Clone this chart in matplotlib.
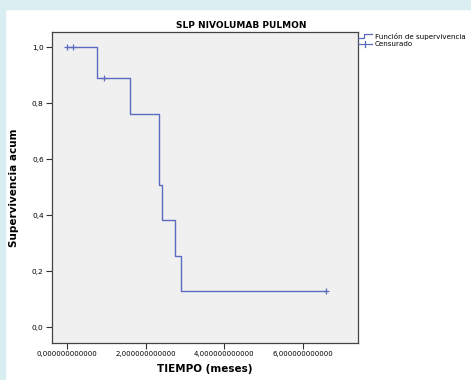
import numpy as np
import matplotlib.pyplot as plt
from matplotlib.lines import Line2D
from matplotlib.patches import Rectangle

# Kaplan-Meier steps
step_times = [0.0, 0.76, 1.60, 2.34, 2.42, 2.75, 2.90]
step_surv = [1.0, 0.889, 0.762, 0.508, 0.381, 0.254, 0.127]
end_time = 6.58

censor_times = [0.01, 0.15, 0.94, 6.58]
censor_surv = [1.0, 1.0, 0.889, 0.127]

x_ticks = [0, 2, 4, 6]
x_ticklabels = ["0,000000000000", "2,000000000000", "4,000000000000", "6,000000000000"]
y_ticks = [0.0, 0.2, 0.4, 0.6, 0.8, 1.0]
y_ticklabels = ["0,0", "0,2", "0,4", "0,6", "0,8", "1,0"]

line_col = "#5b6cc0"
W, H = 471, 380

fig = plt.figure(figsize=(W / 100, H / 100), dpi=100)
fig.patch.set_facecolor("white")
# light blue page band on top and left
fig.add_artist(Rectangle((0, 1 - 9 / H), 1, 9 / H, transform=fig.transFigure,
                         color="#d9eef0", zorder=0))
fig.add_artist(Rectangle((0, 0), 5 / W, 1, transform=fig.transFigure,
                         color="#d9eef0", zorder=0))

ax = fig.add_axes([52 / W, 1 - 343 / H, (358 - 52) / W, (343 - 32) / H])
ax.set_facecolor("#f0f0f0")

xs = step_times + [end_time]
ys = step_surv + [step_surv[-1]]
ax.step(xs, ys, where="post", color=line_col, lw=1.0)
ax.plot(censor_times, censor_surv, ls="none", marker="+", ms=5, mew=0.9, color=line_col)

ax.set_xlim(-0.38, 7.4)
ax.set_ylim(-0.057, 1.054)
ax.set_xticks(x_ticks)
ax.set_xticklabels(x_ticklabels, fontsize=5.0)
ax.set_yticks(y_ticks)
ax.set_yticklabels(y_ticklabels, fontsize=5.3)
ax.tick_params(length=4, width=0.8, color="#333333", pad=2)
for s in ax.spines.values():
    s.set_color("#444444")
    s.set_linewidth(0.9)

ax.set_xlabel("TIEMPO (meses)", fontsize=7.5, fontweight="bold", labelpad=5)
ax.set_ylabel("Supervivencia acum", fontsize=7.5, fontweight="bold", labelpad=9)

# legend glyphs and title outside the plot box (figure pixel coords)
def fp(x, y):
    return x / W, 1 - y / H

fig.text(*fp(241, 25), "SLP NIVOLUMAB PULMON", fontsize=6.5, fontweight="bold",
         ha="center", va="center")

lx = [fp(358, 38)[0], fp(364, 38)[0], fp(364, 34)[0], fp(372, 34)[0]]
ly = [fp(358, 38)[1], fp(364, 38)[1], fp(364, 34)[1], fp(372, 34)[1]]
fig.add_artist(Line2D(lx, ly, color=line_col, lw=0.9, transform=fig.transFigure))
fig.add_artist(Line2D([fp(358, 44)[0], fp(372, 44)[0]], [fp(358, 44)[1], fp(372, 44)[1]],
                      color=line_col, lw=0.9, transform=fig.transFigure))
fig.add_artist(Line2D([fp(365, 41)[0], fp(365, 47)[0]], [fp(365, 41)[1], fp(365, 47)[1]],
                      color=line_col, lw=0.9, transform=fig.transFigure))
fig.text(*fp(375, 36), "Función de supervivencia", fontsize=5.1, va="center", ha="left")
fig.text(*fp(375, 44), "Censurado", fontsize=5.1, va="center", ha="left")

fig.savefig("out.png", dpi=100)
